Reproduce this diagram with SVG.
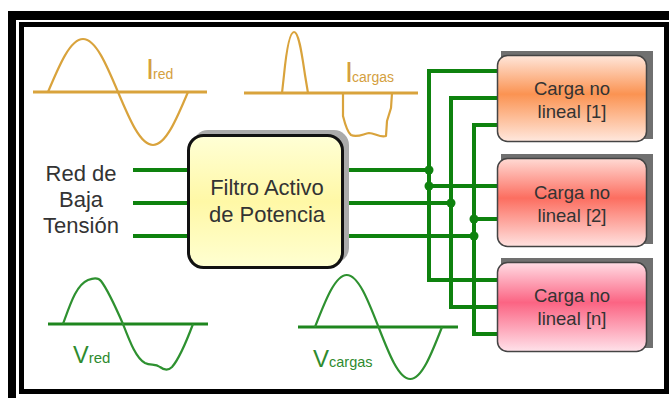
<svg xmlns="http://www.w3.org/2000/svg" width="669" height="398" viewBox="0 0 669 398">
<style>
text{font-family:"Liberation Sans",Arial,sans-serif}
.gold{fill:none;stroke:#D9A33C;stroke-width:2.2;stroke-linejoin:round}
.goldax{stroke:#D9A33C;stroke-width:3}
.gw{fill:none;stroke:#2E9130;stroke-width:2.2;stroke-linejoin:round}
.gax{stroke:#1E861E;stroke-width:3}
.w{fill:none;stroke:#0E820E;stroke-width:4}
.dot{fill:#0E820E}
.lbl{fill:#333;font-size:22px;text-anchor:middle}
.ld{fill:#333;font-size:18.5px;text-anchor:middle}
.lbox{stroke:#444;stroke-width:1.5}
.sh{fill:#707070}
</style>
<defs>
<linearGradient id="gy" x1="0" y1="0" x2="0" y2="1">
<stop offset="0" stop-color="#FFFFD6"/><stop offset="0.5" stop-color="#FFF8A6"/><stop offset="1" stop-color="#FFFFD2"/>
</linearGradient>
<linearGradient id="g1" x1="0" y1="0" x2="0" y2="1">
<stop offset="0" stop-color="#FFE6DA"/><stop offset="0.45" stop-color="#FB9352"/><stop offset="1" stop-color="#FFE8DE"/>
</linearGradient>
<linearGradient id="g2" x1="0" y1="0" x2="0" y2="1">
<stop offset="0" stop-color="#FFDAD4"/><stop offset="0.45" stop-color="#FC6E60"/><stop offset="1" stop-color="#FFE2E0"/>
</linearGradient>
<linearGradient id="g3" x1="0" y1="0" x2="0" y2="1">
<stop offset="0" stop-color="#FFDCE4"/><stop offset="0.45" stop-color="#FB6483"/><stop offset="1" stop-color="#FFE2EA"/>
</linearGradient>
</defs>
<rect width="669" height="398" fill="#fff"/>
<!-- frames -->
<path d="M8,11 H669 V20 H16 V398 H8 Z" fill="#000"/>
<rect x="21.5" y="24.5" width="645" height="367" fill="none" stroke="#000" stroke-width="5"/>

<!-- I red -->
<g id="i-red">
<line class="goldax" x1="33" y1="92" x2="207" y2="92"/>
<path class="gold" d="M48,92 C59.4,64.9 70.3,39 83,39 C95.7,39 106.6,64.9 118,92 C129.4,119.1 140.3,145 153,145 C165.7,145 176.6,119.1 188,92"/>
<text x="146" y="79" font-size="29" fill="#D4A040">I<tspan font-size="14" dx="-1">red</tspan></text>
</g>
<!-- I cargas -->
<g id="i-cargas">
<line class="goldax" x1="244" y1="93" x2="418" y2="93"/>
<path class="gold" d="M282,93 L284,75 C286,55 289,32 294,32 C299,32 302,55 305,75 L308,93"/>
<path class="gold" d="M343,93 L343,116 C345,124 347,132 351,135 C357,138 363,134 369,133 C375,133 380,138 386,136 L387,121 L391,108 L392,93"/>
<text x="345" y="82" font-size="29" fill="#D4A040">I<tspan font-size="14" dx="-1">cargas</tspan></text>
</g>
<!-- V red -->
<g id="v-red">
<line class="gax" x1="48" y1="324" x2="208" y2="324"/>
<path class="gw" d="M63,324 C70,305 76,285 88,280 C93,278 98,277 101,281 C108,290 116,308 123,324 C130,342 136,358 145,363 C151,366 155,363 160,367 C164,370 168,371 172,367 C180,358 187,340 193,324"/>
<text x="73" y="363" font-size="23.5" fill="#2E8B2E">V<tspan font-size="15">red</tspan></text>
</g>
<!-- V cargas -->
<g id="v-cargas">
<line class="gax" x1="298" y1="327" x2="458" y2="327" stroke-width="3.5"/>
<path class="gw" d="M315,327 C325.35,300.4 335.26,275 346.75,275 C358.24,275 368.15,300.4 378.5,327 C388.85,353.6 398.76,379 410.25,379 C421.74,379 431.65,353.6 442,327"/>
<text x="313" y="367" font-size="24" fill="#2E8B2E">V<tspan font-size="14.5">cargas</tspan></text>
</g>

<!-- source label -->
<g id="red-baja-tension">
<text class="lbl" x="81" y="181">Red de</text>
<text class="lbl" x="81" y="207">Baja</text>
<text class="lbl" x="81" y="233">Tensión</text>
</g>

<!-- connectors -->
<g id="connectors">
<path class="w" d="M133,170 H190 M133,203 H190 M133,236 H190"/>
<path class="w" d="M341,170 H429 M341,203 H451 M341,236 H474"/>
<path class="w" stroke-width="3.2" d="M498,71 H429 V280 H498"/>
<path class="w" d="M498,98 H451 V307 H498"/>
<path class="w" stroke-width="4.5" d="M498,125 H474 V334 H498"/>
<path class="w" d="M429,186 H498 M474,219 H498"/>
<circle class="dot" cx="429" cy="170" r="4.5"/>
<circle class="dot" cx="429" cy="186" r="4.5"/>
<circle class="dot" cx="451" cy="203" r="4.5"/>
<circle class="dot" cx="474" cy="219" r="4.5"/>
<circle class="dot" cx="474" cy="236" r="4.5"/>
</g>

<!-- filter -->
<g id="filtro">
<rect x="193" y="130" width="156" height="133" rx="15" fill="#aaa"/>
<rect x="188.5" y="135.5" width="154" height="132" rx="15" fill="url(#gy)" stroke="#111" stroke-width="3"/>
<text class="lbl" x="267" y="195" font-size="22.5">Filtro Activo</text>
<text class="lbl" x="267" y="222" font-size="22.5">de Potencia</text>
</g>

<!-- loads -->
<g id="carga-1">
<rect class="sh" x="501" y="51" width="152" height="88"/>
<rect class="lbox" x="497.5" y="55.5" width="149" height="86" rx="10" fill="url(#g1)"/>
<text class="ld" x="572" y="95">Carga no</text>
<text class="ld" x="572" y="118">lineal [1]</text>
</g>
<g id="carga-2">
<rect class="sh" x="501" y="154" width="152" height="90"/>
<rect class="lbox" x="497.5" y="158.5" width="149" height="88" rx="10" fill="url(#g2)"/>
<text class="ld" x="572" y="199">Carga no</text>
<text class="ld" x="572" y="222">lineal [2]</text>
</g>
<g id="carga-n">
<rect class="sh" x="501" y="258" width="152" height="90"/>
<rect class="lbox" x="497.5" y="262.5" width="149" height="89" rx="10" fill="url(#g3)"/>
<text class="ld" x="572" y="302">Carga no</text>
<text class="ld" x="572" y="325">lineal [n]</text>
</g>
</svg>
